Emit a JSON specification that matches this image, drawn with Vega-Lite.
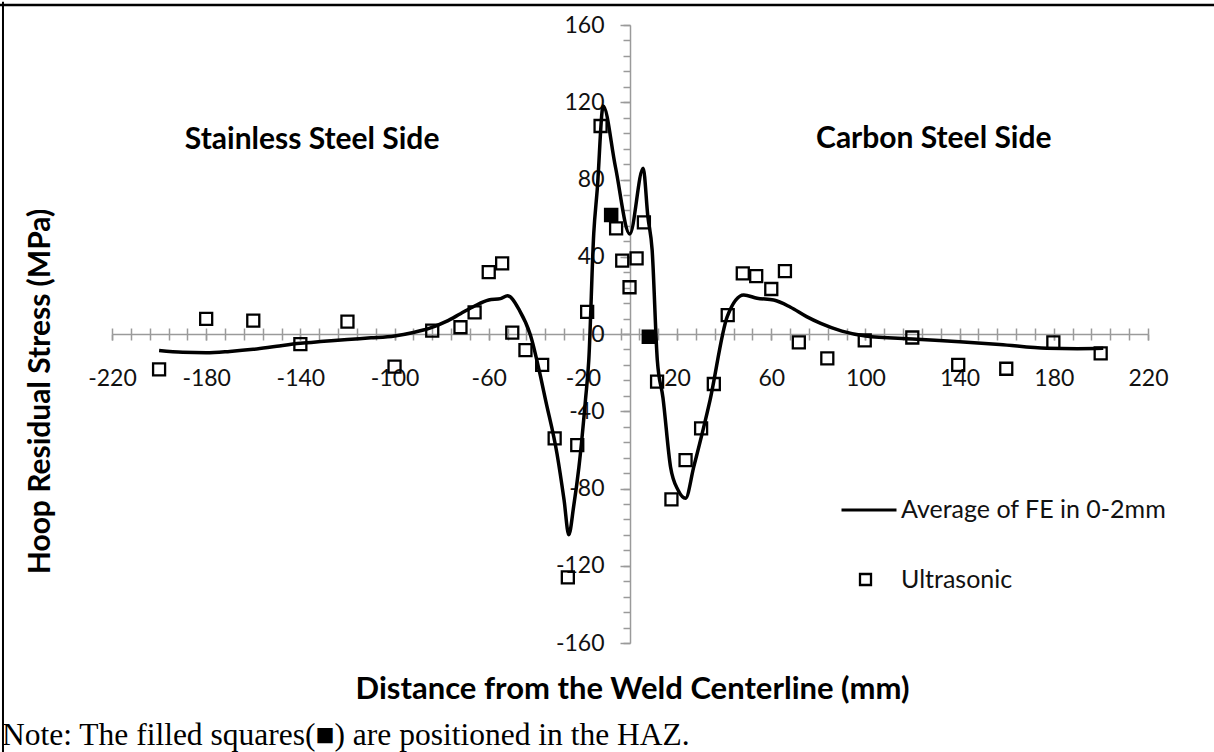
{
  "$schema": "https://vega.github.io/schema/vega-lite/v6.json",
  "width": 1036,
  "height": 618,
  "autosize": {"type": "none"},
  "padding": {"left": 112, "top": 25, "right": 66, "bottom": 109},
  "background": "white",
  "title": {
    "text": "Note: The filled squares(■) are positioned in the HAZ.",
    "orient": "bottom",
    "anchor": "start",
    "frame": "group",
    "font": "Liberation Serif",
    "fontSize": 31.5,
    "fontWeight": "normal",
    "color": "#000",
    "dx": -110,
    "offset": -33
  },
  "datasets": {
    "fe": [
      {"distance": -200, "stress": -8.6, "series": "Average of FE in 0-2mm"},
      {"distance": -190, "stress": -9.5, "series": "Average of FE in 0-2mm"},
      {"distance": -180, "stress": -9.7, "series": "Average of FE in 0-2mm"},
      {"distance": -170, "stress": -9.0, "series": "Average of FE in 0-2mm"},
      {"distance": -160, "stress": -7.9, "series": "Average of FE in 0-2mm"},
      {"distance": -150, "stress": -6.3, "series": "Average of FE in 0-2mm"},
      {"distance": -140, "stress": -4.8, "series": "Average of FE in 0-2mm"},
      {"distance": -130, "stress": -3.8, "series": "Average of FE in 0-2mm"},
      {"distance": -120, "stress": -2.8, "series": "Average of FE in 0-2mm"},
      {"distance": -110, "stress": -2.0, "series": "Average of FE in 0-2mm"},
      {"distance": -100, "stress": -1.0, "series": "Average of FE in 0-2mm"},
      {"distance": -92, "stress": 0.8, "series": "Average of FE in 0-2mm"},
      {"distance": -85, "stress": 3.0, "series": "Average of FE in 0-2mm"},
      {"distance": -78, "stress": 6.5, "series": "Average of FE in 0-2mm"},
      {"distance": -72, "stress": 10.5, "series": "Average of FE in 0-2mm"},
      {"distance": -66, "stress": 14.5, "series": "Average of FE in 0-2mm"},
      {"distance": -60, "stress": 17.6, "series": "Average of FE in 0-2mm"},
      {"distance": -55, "stress": 18.3, "series": "Average of FE in 0-2mm"},
      {"distance": -52, "stress": 19.8, "series": "Average of FE in 0-2mm"},
      {"distance": -47, "stress": 12.4, "series": "Average of FE in 0-2mm"},
      {"distance": -42.3, "stress": -0.5, "series": "Average of FE in 0-2mm"},
      {"distance": -38, "stress": -22, "series": "Average of FE in 0-2mm"},
      {"distance": -35.9, "stress": -34, "series": "Average of FE in 0-2mm"},
      {"distance": -31, "stress": -62, "series": "Average of FE in 0-2mm"},
      {"distance": -28, "stress": -86, "series": "Average of FE in 0-2mm"},
      {"distance": -26, "stress": -104, "series": "Average of FE in 0-2mm"},
      {"distance": -23.9, "stress": -89, "series": "Average of FE in 0-2mm"},
      {"distance": -21.7, "stress": -69, "series": "Average of FE in 0-2mm"},
      {"distance": -18.9, "stress": -34, "series": "Average of FE in 0-2mm"},
      {"distance": -17.5, "stress": -13.5, "series": "Average of FE in 0-2mm"},
      {"distance": -15.4, "stress": 52, "series": "Average of FE in 0-2mm"},
      {"distance": -13.9, "stress": 75, "series": "Average of FE in 0-2mm"},
      {"distance": -11.4, "stress": 118, "series": "Average of FE in 0-2mm"},
      {"distance": -6.2, "stress": 86.6, "series": "Average of FE in 0-2mm"},
      {"distance": -0.1, "stress": 51.8, "series": "Average of FE in 0-2mm"},
      {"distance": 5.6, "stress": 85.8, "series": "Average of FE in 0-2mm"},
      {"distance": 7.6, "stress": 60.7, "series": "Average of FE in 0-2mm"},
      {"distance": 9.4, "stress": 43.5, "series": "Average of FE in 0-2mm"},
      {"distance": 11.6, "stress": -13.5, "series": "Average of FE in 0-2mm"},
      {"distance": 14, "stress": -33, "series": "Average of FE in 0-2mm"},
      {"distance": 17.2, "stress": -68.7, "series": "Average of FE in 0-2mm"},
      {"distance": 20.5, "stress": -81, "series": "Average of FE in 0-2mm"},
      {"distance": 23.6, "stress": -85, "series": "Average of FE in 0-2mm"},
      {"distance": 27.1, "stress": -68.7, "series": "Average of FE in 0-2mm"},
      {"distance": 34, "stress": -34.2, "series": "Average of FE in 0-2mm"},
      {"distance": 41.3, "stress": 9, "series": "Average of FE in 0-2mm"},
      {"distance": 48.3, "stress": 20.2, "series": "Average of FE in 0-2mm"},
      {"distance": 54, "stress": 18.5, "series": "Average of FE in 0-2mm"},
      {"distance": 61, "stress": 17.6, "series": "Average of FE in 0-2mm"},
      {"distance": 68, "stress": 14, "series": "Average of FE in 0-2mm"},
      {"distance": 75, "stress": 9, "series": "Average of FE in 0-2mm"},
      {"distance": 81, "stress": 5.5, "series": "Average of FE in 0-2mm"},
      {"distance": 90, "stress": 1.5, "series": "Average of FE in 0-2mm"},
      {"distance": 100, "stress": -1, "series": "Average of FE in 0-2mm"},
      {"distance": 120, "stress": -2.6, "series": "Average of FE in 0-2mm"},
      {"distance": 140, "stress": -4, "series": "Average of FE in 0-2mm"},
      {"distance": 157, "stress": -5.4, "series": "Average of FE in 0-2mm"},
      {"distance": 177, "stress": -7.4, "series": "Average of FE in 0-2mm"},
      {"distance": 190, "stress": -7.6, "series": "Average of FE in 0-2mm"},
      {"distance": 201, "stress": -7.4, "series": "Average of FE in 0-2mm"}
    ],
    "ut": [
      {"distance": -200, "stress": -18.3, "series": "Ultrasonic"},
      {"distance": -180, "stress": 7.8, "series": "Ultrasonic"},
      {"distance": -160, "stress": 6.9, "series": "Ultrasonic"},
      {"distance": -140, "stress": -5.2, "series": "Ultrasonic"},
      {"distance": -120, "stress": 6.4, "series": "Ultrasonic"},
      {"distance": -100, "stress": -16.9, "series": "Ultrasonic"},
      {"distance": -84, "stress": 1.7, "series": "Ultrasonic"},
      {"distance": -72, "stress": 3.5, "series": "Ultrasonic"},
      {"distance": -66, "stress": 11.2, "series": "Ultrasonic"},
      {"distance": -60, "stress": 32, "series": "Ultrasonic"},
      {"distance": -54.3, "stress": 36.6, "series": "Ultrasonic"},
      {"distance": -50, "stress": 0.7, "series": "Ultrasonic"},
      {"distance": -44.4, "stress": -8.3, "series": "Ultrasonic"},
      {"distance": -37.3, "stress": -16, "series": "Ultrasonic"},
      {"distance": -32, "stress": -54, "series": "Ultrasonic"},
      {"distance": -26.4, "stress": -126, "series": "Ultrasonic"},
      {"distance": -22.4, "stress": -57.5, "series": "Ultrasonic"},
      {"distance": -18.2, "stress": 11.5, "series": "Ultrasonic"},
      {"distance": -12.5, "stress": 107.7, "series": "Ultrasonic"},
      {"distance": -5.9, "stress": 54.7, "series": "Ultrasonic"},
      {"distance": -3.3, "stress": 38, "series": "Ultrasonic"},
      {"distance": -0.2, "stress": 24.2, "series": "Ultrasonic"},
      {"distance": 2.8, "stress": 39.2, "series": "Ultrasonic"},
      {"distance": 5.9, "stress": 57.8, "series": "Ultrasonic"},
      {"distance": 11.5, "stress": -24.7, "series": "Ultrasonic"},
      {"distance": 17.6, "stress": -85.6, "series": "Ultrasonic"},
      {"distance": 23.6, "stress": -65.3, "series": "Ultrasonic"},
      {"distance": 30.2, "stress": -48.9, "series": "Ultrasonic"},
      {"distance": 35.6, "stress": -25.9, "series": "Ultrasonic"},
      {"distance": 41.5, "stress": 9.8, "series": "Ultrasonic"},
      {"distance": 47.9, "stress": 31.4, "series": "Ultrasonic"},
      {"distance": 53.6, "stress": 30, "series": "Ultrasonic"},
      {"distance": 60, "stress": 23.3, "series": "Ultrasonic"},
      {"distance": 65.8, "stress": 32.6, "series": "Ultrasonic"},
      {"distance": 71.7, "stress": -4.3, "series": "Ultrasonic"},
      {"distance": 83.8, "stress": -12.6, "series": "Ultrasonic"},
      {"distance": 99.7, "stress": -3.3, "series": "Ultrasonic"},
      {"distance": 119.9, "stress": -1.8, "series": "Ultrasonic"},
      {"distance": 139.4, "stress": -16, "series": "Ultrasonic"},
      {"distance": 159.8, "stress": -18, "series": "Ultrasonic"},
      {"distance": 179.8, "stress": -4.3, "series": "Ultrasonic"},
      {"distance": 199.9, "stress": -10, "series": "Ultrasonic"}
    ],
    "haz": [
      {"distance": -8, "stress": 61.6, "series": "Ultrasonic (HAZ)"},
      {"distance": 8, "stress": -1.4, "series": "Ultrasonic (HAZ)"}
    ]
  },
  "resolve": {"axis": {"x": "independent", "y": "independent"}},
  "layer": [
    {
      "data": {"name": "fe"},
      "mark": {"type": "line", "interpolate": "monotone", "strokeWidth": 3.5},
      "encoding": {
        "x": {
          "field": "distance", "type": "quantitative",
          "scale": {"domain": [-220, 220], "nice": false, "zero": false},
          "axis": {
            "orient": "bottom", "offset": -309,
            "values": [-220, -180, -140, -100, -60, -20, 20, 60, 100, 140, 180, 220],
            "labelExpr": "datum.value < 0 ? '-' + abs(datum.value) : '' + datum.value",
            "tickSize": 6, "tickWidth": 1.5, "domainWidth": 1.5,
            "labelPadding": 38, "labelBaseline": "middle", "labelFontSize": 23,
            "labelFlush": false, "labelOverlap": false,
            "title": "Distance from the Weld Centerline (mm)", "titleFontSize": 31,
            "titleX": 520, "titleY": 355, "titleBaseline": "middle", "titleAlign": "center"
          }
        },
        "y": {
          "field": "stress", "type": "quantitative",
          "scale": {"domain": [-160, 160], "nice": false, "zero": false},
          "axis": {
            "orient": "left", "offset": -518,
            "values": [-160, -120, -80, -40, 0, 40, 80, 120, 160],
            "labelExpr": "datum.value < 0 ? '-' + abs(datum.value) : '' + datum.value",
            "tickSize": 10, "tickWidth": 1.5, "domainWidth": 1.5, "labelFontSize": 23,
            "labelPadding": 16, "labelFlush": false, "labelOverlap": false,
            "title": "Hoop Residual Stress (MPa)", "titleFontSize": 30,
            "titleX": -590, "titleY": 366, "titleAngle": -90,
            "titleBaseline": "middle", "titleAlign": "center"
          }
        },
        "stroke": {
          "field": "series", "type": "nominal",
          "scale": {"range": ["black"]},
          "legend": {
            "orient": "none", "legendX": 728, "legendY": 456,
            "title": null, "symbolType": "stroke", "symbolSize": 3025,
            "symbolStrokeWidth": 3, "symbolStrokeColor": "black",
            "labelFontSize": 25, "labelOffset": 3, "labelLimit": 600, "padding": 0
          }
        }
      }
    },
    {
      "data": {"name": "ut"},
      "mark": {"type": "point", "filled": false, "size": 144, "strokeWidth": 2.3, "color": "black", "opacity": 1},
      "encoding": {
        "x": {
          "field": "distance", "type": "quantitative",
          "scale": {"domain": [-220, 220], "nice": false, "zero": false},
          "axis": {
            "orient": "bottom", "offset": -309,
            "values": [-220,-212,-204,-196,-188,-180,-172,-164,-156,-148,-140,-132,-124,-116,-108,-100,-92,-84,-76,-68,-60,-52,-44,-36,-28,-20,-12,-4,4,12,20,28,36,44,52,60,68,76,84,92,100,108,116,124,132,140,148,156,164,172,180,188,196,204,212,220],
            "tickSize": 6, "tickWidth": 1.5, "domain": false, "labels": false, "title": null
          }
        },
        "y": {
          "field": "stress", "type": "quantitative",
          "scale": {"domain": [-160, 160], "nice": false, "zero": false},
          "axis": {
            "orient": "left", "offset": -518,
            "values": [-160,-152,-144,-136,-128,-120,-112,-104,-96,-88,-80,-72,-64,-56,-48,-40,-32,-24,-16,-8,0,8,16,24,32,40,48,56,64,72,80,88,96,104,112,120,128,136,144,152,160],
            "tickSize": 7, "tickWidth": 1.5, "domain": false, "labels": false, "title": null
          }
        },
        "shape": {
          "field": "series", "type": "nominal",
          "scale": {"range": ["square"]},
          "legend": {
            "orient": "none", "legendX": 741, "legendY": 542,
            "title": null, "symbolSize": 121, "symbolStrokeWidth": 2.3,
            "symbolStrokeColor": "black", "symbolFillColor": "transparent",
            "labelFontSize": 25, "labelOffset": 23, "labelLimit": 600, "padding": 0
          }
        }
      }
    },
    {
      "data": {"name": "haz"},
      "mark": {"type": "point", "shape": "square", "filled": true, "size": 169, "color": "black", "stroke": "black", "strokeWidth": 1.5, "opacity": 1},
      "encoding": {
        "x": {
          "field": "distance", "type": "quantitative",
          "scale": {"domain": [-220, 220], "nice": false, "zero": false},
          "axis": {
            "orient": "top", "offset": -309,
            "values": [-220,-212,-204,-196,-188,-180,-172,-164,-156,-148,-140,-132,-124,-116,-108,-100,-92,-84,-76,-68,-60,-52,-44,-36,-28,-20,-12,-4,4,12,20,28,36,44,52,60,68,76,84,92,100,108,116,124,132,140,148,156,164,172,180,188,196,204,212,220],
            "tickSize": 6, "tickWidth": 1.5, "domain": false, "labels": false, "title": null
          }
        },
        "y": {
          "field": "stress", "type": "quantitative",
          "scale": {"domain": [-160, 160], "nice": false, "zero": false},
          "axis": null
        }
      }
    },
    {
      "data": {"values": [{}]},
      "mark": {"type": "text", "text": "Stainless Steel Side", "font": "Lato", "fontWeight": "bold", "fontSize": 30, "align": "center", "baseline": "middle", "color": "#000"},
      "encoding": {
        "x": {"datum": -135, "type": "quantitative", "axis": null},
        "y": {"datum": 100.5, "type": "quantitative", "axis": null}
      }
    },
    {
      "data": {"values": [{}]},
      "mark": {"type": "text", "text": "Carbon Steel Side", "font": "Lato", "fontWeight": "bold", "fontSize": 30, "align": "center", "baseline": "middle", "color": "#000"},
      "encoding": {
        "x": {"datum": 129, "type": "quantitative", "axis": null},
        "y": {"datum": 101, "type": "quantitative", "axis": null}
      }
    },
    {
      "data": {"values": [{}]},
      "mark": {"type": "rule", "color": "black", "strokeWidth": 2.5},
      "encoding": {
        "x": {"datum": -270, "type": "quantitative", "axis": null},
        "x2": {"datum": 260},
        "y": {"datum": 170.4, "type": "quantitative", "axis": null}
      }
    },
    {
      "data": {"values": [{}]},
      "mark": {"type": "rule", "color": "black", "strokeWidth": 2},
      "encoding": {
        "x": {"datum": -266.3, "type": "quantitative", "axis": null},
        "y": {"datum": 172, "type": "quantitative", "axis": null},
        "y2": {"datum": -216.5}
      }
    }
  ],
  "config": {
    "view": {"stroke": null},
    "font": "Lato",
    "axis": {
      "grid": false,
      "labelFont": "Lato",
      "labelFontSize": 21,
      "labelColor": "#111",
      "titleFont": "Lato",
      "titleFontSize": 29,
      "titleFontWeight": "bold",
      "titleColor": "#000",
      "domainColor": "#9a9a9a",
      "tickColor": "#9a9a9a"
    },
    "legend": {
      "labelFont": "Lato",
      "labelColor": "#111"
    }
  }
}
